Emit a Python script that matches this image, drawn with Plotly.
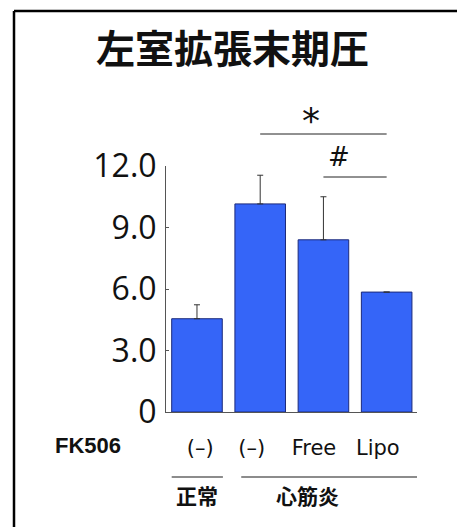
import plotly.graph_objects as go

# Left ventricular end-diastolic pressure by group
categories = ["(–)", "(–) ", "Free", "Lipo"]
means = [4.55, 10.15, 8.4, 5.85]
errors = [0.68, 1.4, 2.1, float("nan")]
y_ticks = [0, 3, 6, 9, 12]
y_tick_labels = ["0", "3.0", "6.0", "9.0", "12.0"]

title_text = "左室拡張末期圧"
row_label = "FK506"
group_labels = ["正常", "心筋炎"]

BAR_BLUE = "#3565F8"
BAR_EDGE = "#1C2A7A"
AXIS_GREY = "#555555"


def py(pixel_y):
    """Convert a pixel row into paper coordinates for this layout."""
    return (412 - pixel_y) / 246


def px(pixel_x):
    return (pixel_x - 166) / 251


# only upward whiskers; no whisker where no error is given
lower = [0 if e == e else float("nan") for e in errors]

fig = go.Figure()
fig.add_trace(go.Bar(
    x=[0, 1, 2, 3],
    y=means,
    width=0.8,
    marker=dict(color=BAR_BLUE, line=dict(color=BAR_EDGE, width=1)),
    error_y=dict(type="data", array=errors, symmetric=False, arrayminus=lower,
                 color="#333333", thickness=1, width=3, visible=True),
))

fig.update_layout(
    width=457, height=527,
    margin=dict(l=166, r=40, t=166, b=115),
    paper_bgcolor="white", plot_bgcolor="white",
    showlegend=False,
    xaxis=dict(
        range=[-0.49, 3.48],
        tickmode="array", tickvals=[0.05, 0.92, 1.85, 2.86], ticktext=categories,
        showline=True, linecolor=AXIS_GREY, linewidth=1,
        ticks="", showgrid=False, zeroline=False,
        tickfont=dict(family="DejaVu Sans", size=21, color="#111111"),
        ticklabelstandoff=17,
    ),
    yaxis=dict(
        range=[0, 12],
        tickmode="array", tickvals=y_ticks, ticktext=y_tick_labels,
        showline=True, linecolor=AXIS_GREY, linewidth=1,
        ticks="inside", ticklen=3, tickcolor=AXIS_GREY,
        showgrid=False, zeroline=False,
        tickfont=dict(family="Open Sans", size=32, color="#111111"),
        ticklabelstandoff=2,
    ),
)

# Frame lines on the left and top
fig.add_shape(type="line", xref="paper", yref="paper",
              x0=px(14), x1=px(14), y0=py(11), y1=py(530),
              line=dict(color="black", width=2.5))
fig.add_shape(type="line", xref="paper", yref="paper",
              x0=px(14), x1=px(460), y0=py(11), y1=py(11),
              line=dict(color="black", width=2.5))

# Title
fig.add_annotation(text=title_text, xref="paper", yref="paper",
                   x=px(232), y=py(46), showarrow=False,
                   xanchor="center", yanchor="middle",
                   font=dict(family="Noto Sans CJK JP", size=39, color="#111111", weight=600))

# Significance brackets
fig.add_shape(type="line", xref="x", yref="paper", x0=1, x1=3, y0=py(134), y1=py(134),
              line=dict(color="#222222", width=1))
fig.add_shape(type="line", xref="x", yref="paper", x0=2, x1=3, y0=py(177), y1=py(177),
              line=dict(color="#222222", width=1))
fig.add_annotation(text="*", xref="x", yref="paper", x=1.8, y=py(120),
                   xanchor="center", yanchor="middle",
                   showarrow=False, font=dict(family="DejaVu Sans", size=36, color="#111111"))
fig.add_annotation(text="#", xref="x", yref="paper", x=2.25, y=py(157),
                   xanchor="center", yanchor="middle",
                   showarrow=False, font=dict(family="DejaVu Sans", size=26, color="#111111"))

# Row label and group labels
fig.add_annotation(text="<b>" + row_label + "</b>", xref="paper", yref="paper",
                   x=px(88), y=py(445), showarrow=False,
                   xanchor="center", yanchor="middle",
                   font=dict(family="Liberation Sans", size=22, color="#111111"))
fig.add_shape(type="line", xref="x", yref="paper", x0=-0.4, x1=0.41, y0=py(477), y1=py(477),
              line=dict(color="#666666", width=1.5))
fig.add_shape(type="line", xref="x", yref="paper", x0=0.7, x1=3.55, y0=py(477), y1=py(477),
              line=dict(color="#666666", width=1.5))
fig.add_annotation(text="<b>" + group_labels[0] + "</b>", xref="x", yref="paper",
                   x=0, y=py(495), showarrow=False,
                   xanchor="center", yanchor="middle",
                   font=dict(family="Noto Sans CJK JP", size=21, color="#111111"))
fig.add_annotation(text="<b>" + group_labels[1] + "</b>", xref="x", yref="paper",
                   x=1.75, y=py(495), showarrow=False,
                   xanchor="center", yanchor="middle",
                   font=dict(family="Noto Sans CJK JP", size=21, color="#111111"))

fig.write_html("out.html")
